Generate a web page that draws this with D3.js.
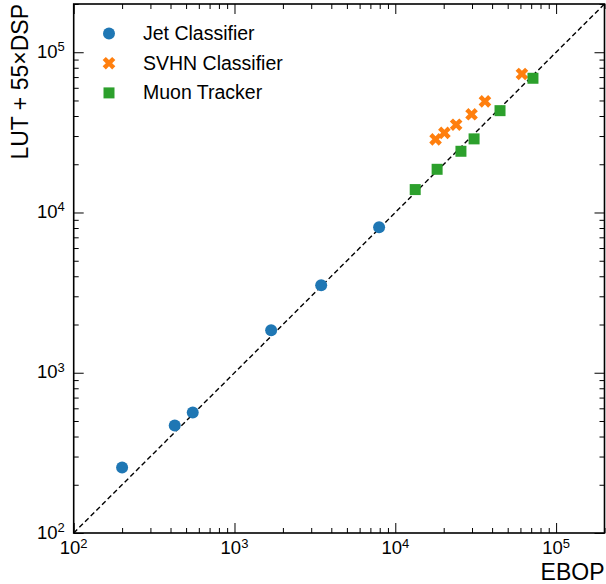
<!DOCTYPE html>
<html>
<head>
<meta charset="utf-8">
<script src="https://cdn.jsdelivr.net/npm/d3@7"></script>
<style>
  html, body { margin: 0; padding: 0; background: #fff; }
  svg text { font-family: "Liberation Sans", Arial, Helvetica, sans-serif; fill: #000; }
</style>
</head>
<body>
<div id="chart"></div>
<script>
//
// EBOP vs resource usage, log-log scatter with y = x guide
//
const seriesNames = ['Jet Classifier', 'SVHN Classifier', 'Muon Tracker']
const seriesColours = ['#1f77b4', '#ff7f0e', '#2ca02c']

const jetEbop = [200, 425, 550, 1690, 3460, 7930]
const jetCost = [256, 469, 565, 1840, 3520, 8090]

const svhnEbop = [17800, 20200, 23900, 29800, 36100, 61300]
const svhnCost = [28600, 31400, 35300, 41000, 49400, 73200]

const muonEbop = [13300, 18200, 25600, 30900, 44800, 71800]
const muonCost = [13900, 18600, 24100, 28800, 43200, 68800]

const majorTicks = [1e2, 1e3, 1e4, 1e5]
const majorLabels = ['2', '3', '4', '5'] // exponents shown as 10^n
const axisLimits = [100, 2e5]

const width = 606
const height = 584
const margin = { left: 73.7, right: 1.5, top: 4, bottom: 51 }

const svg = d3.select('#chart')
  .append('svg')
  .attr('width', width)
  .attr('height', height)

const x = d3.scaleLog().domain(axisLimits).range([margin.left, width - margin.right])
const y = d3.scaleLog().domain(axisLimits).range([height - margin.bottom, margin.top])

// minor ticks: 2..9 of every decade inside the limits
const minorTicks = []
majorTicks.forEach(function (d) {
  for (let k = 2; k <= 9; k++) {
    const v = d * k
    if (v <= axisLimits[1]) minorTicks.push(v)
  }
})

const x0 = x.range()[0]
const x1 = x.range()[1]
const y0 = y.range()[0]
const y1 = y.range()[1]

//
// Inward ticks on all four sides
//
function addAxis (axisFn, scale, values, size, transform) {
  const g = svg.append('g')
    .attr('transform', transform)
    .call(axisFn(scale).tickValues(values).tickSize(-size).tickFormat(''))
  g.select('.domain').remove()
  g.selectAll('.tick line').attr('stroke', '#000').attr('stroke-width', 1)
}
addAxis(d3.axisBottom, x, majorTicks, 10, 'translate(0,' + y0 + ')')
addAxis(d3.axisBottom, x, minorTicks, 5, 'translate(0,' + y0 + ')')
addAxis(d3.axisTop, x, majorTicks, 10, 'translate(0,' + y1 + ')')
addAxis(d3.axisTop, x, minorTicks, 5, 'translate(0,' + y1 + ')')
addAxis(d3.axisLeft, y, majorTicks, 10, 'translate(' + x0 + ',0)')
addAxis(d3.axisLeft, y, minorTicks, 5, 'translate(' + x0 + ',0)')
addAxis(d3.axisRight, y, majorTicks, 10, 'translate(' + x1 + ',0)')
addAxis(d3.axisRight, y, minorTicks, 5, 'translate(' + x1 + ',0)')

// frame
svg.append('rect')
  .attr('x', x0)
  .attr('y', y1)
  .attr('width', x1 - x0)
  .attr('height', y0 - y1)
  .attr('fill', 'none')
  .attr('stroke', '#000')
  .attr('stroke-width', 1.6)

//
// Tick labels 10^n
//
const xLabels = svg.append('g').selectAll('text')
  .data(majorTicks)
  .enter().append('text')
  .attr('x', d => x(d))
  .attr('y', y0 + 21)
  .attr('text-anchor', 'middle')
  .style('font-size', '18.5px')
xLabels.append('tspan').text('10')
xLabels.append('tspan').attr('dy', -6.5).style('font-size', '13px').text((d, i) => majorLabels[i])

const yLabels = svg.append('g').selectAll('text')
  .data(majorTicks)
  .enter().append('text')
  .attr('x', x0 - 9)
  .attr('y', d => y(d) + 5.5)
  .attr('text-anchor', 'end')
  .style('font-size', '18.5px')
yLabels.append('tspan').text('10')
yLabels.append('tspan').attr('dy', -6.5).style('font-size', '13px').text((d, i) => majorLabels[i])

// axis titles
svg.append('text')
  .attr('x', x1)
  .attr('y', 580)
  .attr('text-anchor', 'end')
  .style('font-size', '23px')
  .text('EBOP')

svg.append('text')
  .attr('transform', 'translate(28,' + y1 + ') rotate(-90)')
  .attr('text-anchor', 'end')
  .style('font-size', '23px')
  .text('LUT + 55×DSP')

//
// y = x reference line
//
svg.append('line')
  .attr('x1', x(axisLimits[0]))
  .attr('y1', y(axisLimits[0]))
  .attr('x2', x(axisLimits[1]))
  .attr('y2', y(axisLimits[1]))
  .attr('stroke', '#000')
  .attr('stroke-width', 1.4)
  .attr('stroke-dasharray', '5,3')

//
// Markers
//
const circleSym = d3.symbol().type(d3.symbolCircle).size(Math.PI * 6 * 6)
const crossSym = d3.symbol().type(d3.symbolCross).size(100)
const squareSym = d3.symbol().type(d3.symbolSquare).size(11 * 11)

function drawSeries (xs, ys, sym, colour, rot) {
  svg.append('g').selectAll('path')
    .data(xs.map((v, i) => [v, ys[i]]))
    .enter().append('path')
    .attr('d', sym)
    .attr('transform', d => 'translate(' + x(d[0]) + ',' + y(d[1]) + ') rotate(' + rot + ')')
    .attr('fill', colour)
}
drawSeries(jetEbop, jetCost, circleSym, seriesColours[0], 0)
drawSeries(svhnEbop, svhnCost, crossSym, seriesColours[1], 45)
drawSeries(muonEbop, muonCost, squareSym, seriesColours[2], 0)

//
// Legend
//
const legendSyms = [circleSym, crossSym, squareSym]
const legendRot = [0, 45, 0]
const legend = svg.append('g').selectAll('g')
  .data(seriesNames)
  .enter().append('g')
  .attr('transform', (d, i) => 'translate(109,' + (33.5 + i * 29.7) + ')')
legend.append('path')
  .attr('d', (d, i) => legendSyms[i]())
  .attr('transform', (d, i) => 'rotate(' + legendRot[i] + ')')
  .attr('fill', (d, i) => seriesColours[i])
legend.append('text')
  .attr('x', 34)
  .attr('y', 6.5)
  .style('font-size', '19.5px')
  .text(d => d)
</script>
</body>
</html>
